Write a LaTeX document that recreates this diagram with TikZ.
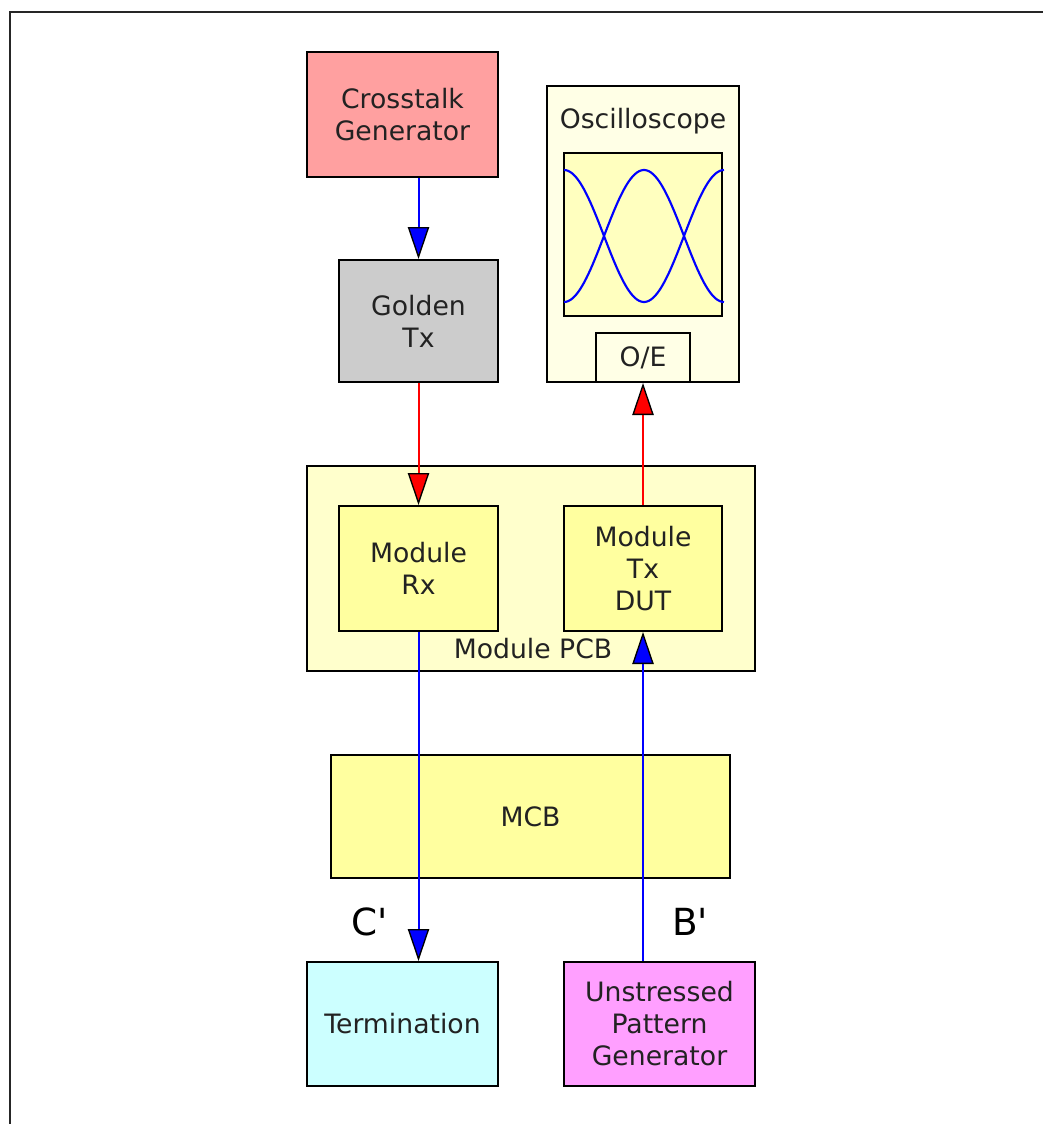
\documentclass[tikz,border=0pt]{standalone}
\usepackage{fontspec}
\setmainfont{DejaVu Sans}
\usetikzlibrary{arrows.meta}
\definecolor{cxtalk}{HTML}{FFA0A0}
\definecolor{cgold}{HTML}{CCCCCC}
\definecolor{cscope}{HTML}{FFFFE6}
\definecolor{cscreen}{HTML}{FFFFBF}
\definecolor{cpcb}{HTML}{FFFFCC}
\definecolor{cmod}{HTML}{FFFF9F}
\definecolor{cterm}{HTML}{CCFFFF}
\definecolor{cupg}{HTML}{FF9FFF}
\definecolor{ctext}{HTML}{222222}
\begin{document}
\begin{tikzpicture}[x=0.75pt,y=-0.75pt,
  box/.style={draw=black,line width=1.5pt,inner sep=0pt,align=center,text=ctext,
    font=\fontsize{20}{24}\selectfont},
  bluearrow/.style={draw=blue,line width=1.5pt,-{Triangle[length=24pt,width=16pt,color=black,fill=blue,line width=1pt]}},
  redarrow/.style={draw=red,line width=1.5pt,-{Triangle[length=24pt,width=16pt,color=black,fill=red,line width=1pt]}},
  biglabel/.style={text=black,font=\fontsize{28}{30}\selectfont,anchor=base,inner sep=0pt}]
\useasboundingbox (0,0) rectangle (1042,1124);
% frame
\draw[line width=1.5pt,black!85] (10,1130) -- (10,12) -- (1050,12);
% boxes
\node[box,fill=cxtalk,minimum width=191*0.75pt,minimum height=125*0.75pt] (xtalk) at (402.5,114.5) {Crosstalk\\Generator};
\node[box,fill=cgold,minimum width=159*0.75pt,minimum height=122*0.75pt] (golden) at (418.5,321) {Golden\\ Tx};
\node[box,fill=cscope,minimum width=192*0.75pt,minimum height=296*0.75pt] (scope) at (643,234) {};
\node[text=ctext,font=\fontsize{20}{24}\selectfont,anchor=base] (scopelbl) at (643,128) {Oscilloscope};
\node[box,fill=cscreen,minimum width=158*0.75pt,minimum height=163*0.75pt] (screen) at (643,234.5) {};
\node[box,fill=cscope,minimum width=94*0.75pt,minimum height=49*0.75pt] (oe) at (643,357.5) {O/E};
\node[box,fill=cpcb,minimum width=448*0.75pt,minimum height=205*0.75pt] (pcb) at (531,568.5) {};
\node[text=ctext,font=\fontsize{20}{24}\selectfont,anchor=base] (pcblbl) at (533,658) {Module PCB};
\node[box,fill=cmod,minimum width=159*0.75pt,minimum height=125*0.75pt] (rx) at (418.5,568.5) {Module\\Rx};
\node[box,fill=cmod,minimum width=158*0.75pt,minimum height=125*0.75pt] (tx) at (643,568.5) {Module\\Tx\\DUT};
\node[box,fill=cmod,minimum width=399*0.75pt,minimum height=123*0.75pt] (mcb) at (530.5,816.5) {MCB};
\node[box,fill=cterm,minimum width=191*0.75pt,minimum height=124*0.75pt] (term) at (402.5,1024) {Termination};
\node[box,fill=cupg,minimum width=191*0.75pt,minimum height=124*0.75pt] (upg) at (659.5,1024) {Unstressed\\Pattern\\Generator};
% eye diagram
\draw[blue,line width=1.6pt] plot[domain=0:360,samples=80] ({564+\x*0.4444},{236+66*cos(\x)});
\draw[blue,line width=1.6pt] plot[domain=0:360,samples=80] ({564+\x*0.4444},{236-66*cos(\x)});
% connectors
\draw[bluearrow] (golden.north |- xtalk.south) -- (golden.north);
\draw[redarrow] (golden.south) -- (rx.north);
\draw[redarrow] (tx.north) -- (oe.south);
\draw[bluearrow] (rx.south) -- (rx.south |- term.north);
\draw[bluearrow] (tx.south |- upg.north) -- (tx.south);
% labels
\node[biglabel] (clbl) at (370,935) {C\textquotesingle};
\node[biglabel] (blbl) at (690,935) {B\textquotesingle};
\end{tikzpicture}
\end{document}
